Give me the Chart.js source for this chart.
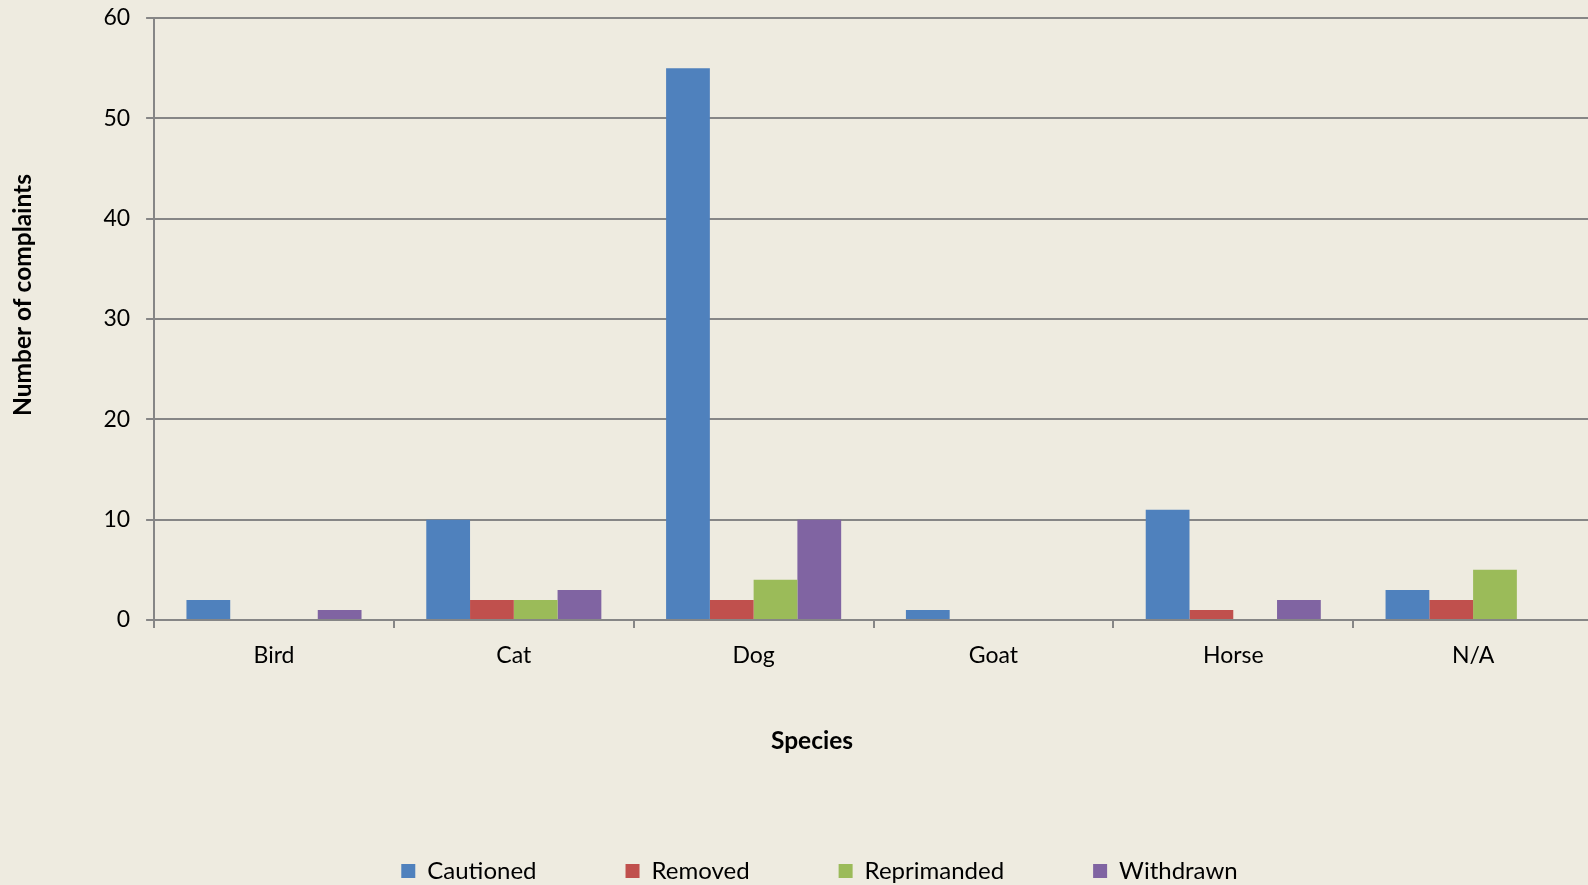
<!DOCTYPE html>
<html>
<head>
<meta charset="utf-8">
<script src="https://cdn.jsdelivr.net/npm/chart.js@4/dist/chart.umd.min.js"></script>
<style>
  html, body { margin: 0; padding: 0; background: #eeebe0; overflow: hidden; }
  /* plot runs a few px past the right edge in the original */
  #wrap { width: 1593px; height: 885px; }
</style>
</head>
<body>
<div id="wrap"><canvas id="graph"></canvas></div>
<script>
const species = ["Bird", "Cat", "Dog", "Goat", "Horse", "N/A"];
const cautioned = [2, 10, 55, 1, 11, 3];
const removed = [0, 2, 2, 0, 1, 2];
const reprimanded = [0, 2, 4, 0, 0, 5];
const withdrawn = [1, 3, 10, 0, 2, 0];
const yTicks = [0, 10, 20, 30, 40, 50, 60];

const gridColor = "#868686";
const fontFamily = "Lato, 'Open Sans', sans-serif";
const titleFont = "bold 24.5px " + fontFamily;

// the legend in the original sits a little right of centre
const legendShift = {
  id: "legendShift",
  afterLayout(chart) {
    chart.legend.left += 23;
    chart.legend.right += 23;
  },
};

// axis titles are off-centre in the original, so the scale titles only keep
// the space and the text is drawn here
const axisTitles = {
  id: "axisTitles",
  afterDraw(chart) {
    const c = chart.ctx;
    c.save();
    c.fillStyle = "#000";
    c.font = titleFont;
    c.textAlign = "center";
    c.textBaseline = "middle";
    c.fillText("Species", 812, 741);
    c.translate(23, 295);
    c.rotate(-Math.PI / 2);
    c.fillText("Number of complaints", 0, 0);
    c.restore();
  },
};

const ctx = document.getElementById("graph");

new Chart(ctx, {
  type: "bar",
  data: {
    labels: species,
    datasets: [
      { label: "Cautioned", data: cautioned, backgroundColor: "#4f81bd" },
      { label: "Removed", data: removed, backgroundColor: "#c0504d" },
      { label: "Reprimanded", data: reprimanded, backgroundColor: "#9bbb59" },
      { label: "Withdrawn", data: withdrawn, backgroundColor: "#8064a2" },
    ],
  },
  plugins: [legendShift, axisTitles],
  options: {
    responsive: true,
    maintainAspectRatio: false,
    animation: false,
    layout: { padding: { top: 18, right: 0, bottom: -8, left: 0 } },
    datasets: {
      bar: { barPercentage: 1, categoryPercentage: 0.73, borderWidth: 0 },
    },
    plugins: {
      tooltip: { enabled: false },
      legend: {
        position: "bottom",
        labels: {
          boxWidth: 14,
          boxHeight: 14,
          padding: 89,
          color: "#000",
          font: { family: fontFamily, size: 24 },
        },
      },
    },
    scales: {
      x: {
        grid: {
          drawOnChartArea: false,
          drawTicks: true,
          tickLength: 8,
          color: gridColor,
          lineWidth: 2,
        },
        border: { color: gridColor, width: 2 },
        ticks: { color: "#000", padding: 14, font: { family: fontFamily, size: 23 } },
        title: {
          display: true,
          text: "Species",
          color: "rgba(0,0,0,0)",
          font: { family: fontFamily, size: 24.5, weight: "bold" },
          padding: { top: 45, bottom: 12 },
        },
      },
      y: {
        min: 0,
        max: 60,
        afterBuildTicks: (axis) => {
          axis.ticks = yTicks.map((v) => ({ value: v }));
        },
        afterFit: (axis) => {
          axis.paddingTop = 0;
          axis.paddingBottom = 0;
        },
        grid: { color: gridColor, lineWidth: 2, tickLength: 8 },
        border: { color: gridColor, width: 2 },
        ticks: { color: "#000", padding: 16, font: { family: fontFamily, size: 23 } },
        title: {
          display: true,
          text: "Number of complaints",
          color: "rgba(0,0,0,0)",
          font: { family: fontFamily, size: 24.5, weight: "bold" },
          padding: { top: 8, bottom: 50 },
        },
      },
    },
  },
});
</script>
</body>
</html>
